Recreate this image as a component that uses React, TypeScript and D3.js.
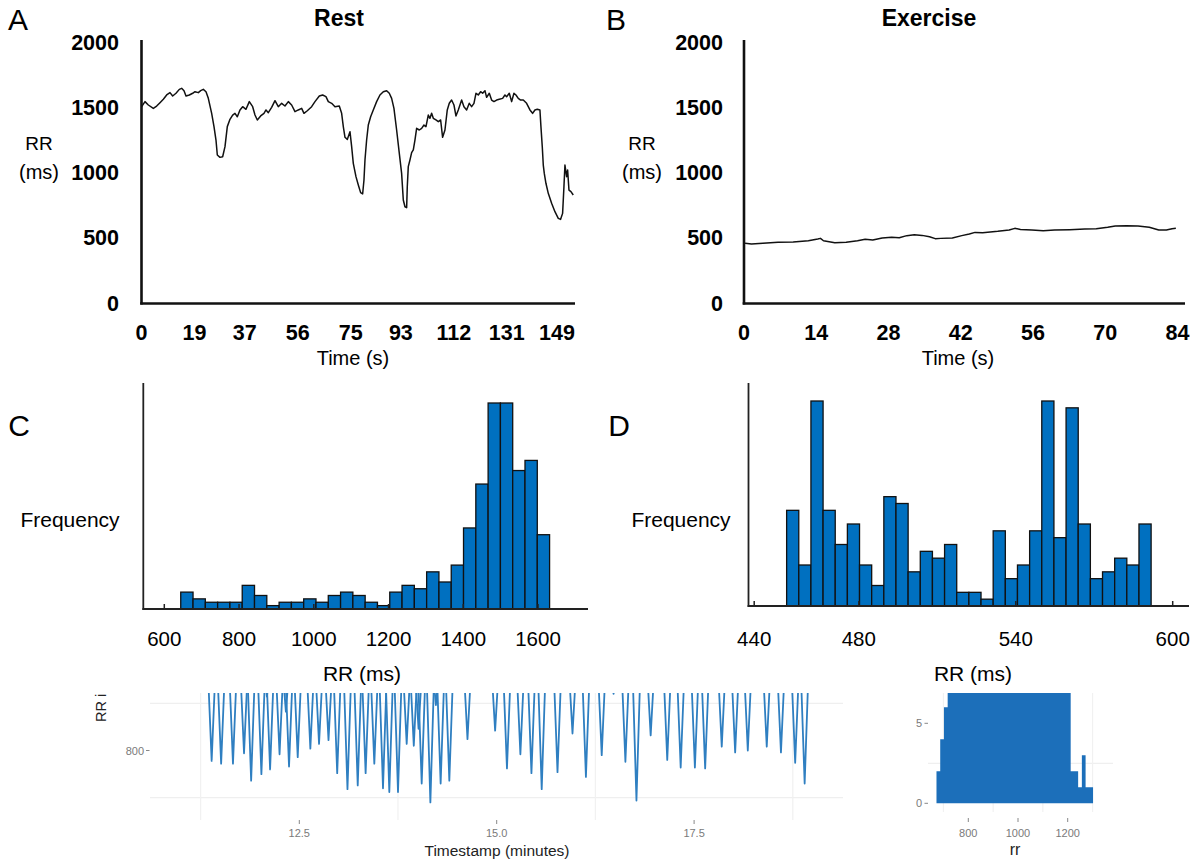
import React from "react";
import * as d3 from "d3";

// ---------- Panel A: Rest RR trace ----------
const restTime = [0.06,1.25,2.45,4.24,5.44,6.63,7.83,9.02,10.22,11.18,12.37,13.56,14.4,15.24,15.96,17.15,18.35,19.18,20.38,21.22,22.17,23.13,23.96,25.16,26.0,26.71,27.19,28.15,29.1,29.94,30.77,31.73,32.69,33.52,34.36,35.32,36.27,37.47,38.66,39.86,40.7,41.53,42.73,43.92,44.64,45.48,46.67,47.87,49.06,50.26,51.45,52.65,53.84,55.04,56.23,57.43,58.26,59.46,61.01,62.21,63.76,64.96,66.15,66.99,68.19,69.38,70.93,71.77,72.37,72.97,73.8,74.76,75.36,75.95,76.91,77.75,78.58,79.3,79.78,80.14,80.73,81.33,82.17,83.12,84.32,85.51,86.71,87.91,88.86,89.7,90.53,91.49,92.45,93.28,93.88,94.48,95.08,95.31,95.67,96.27,96.87,97.47,98.06,98.66,99.62,100.46,101.29,102.01,102.84,103.44,104.04,104.64,105.59,106.43,107.27,107.98,108.82,109.65,110.37,111.21,112.05,112.76,113.6,114.8,115.63,116.59,117.54,118.38,119.22,119.94,120.77,121.61,122.33,123.16,123.76,124.72,125.55,126.39,127.35,128.3,129.5,130.33,130.93,131.89,132.73,133.56,134.28,135.11,135.95,136.91,138.1,139.3,140.25,141.09,141.93,142.88,143.24,143.72,144.08,144.44,145.03,145.87,147.07,148.26,149.46,150.29,151.01,151.49,151.85,152.45,152.81,153.29,154.0,154.83];
const restRR = [1511,1550,1524,1498,1516,1542,1568,1601,1619,1593,1614,1644,1652,1634,1593,1601,1614,1626,1619,1634,1644,1626,1575,1460,1358,1255,1140,1122,1127,1204,1358,1414,1447,1460,1434,1486,1511,1491,1550,1511,1447,1409,1440,1460,1486,1465,1506,1557,1511,1537,1516,1550,1524,1473,1486,1498,1460,1480,1511,1550,1593,1601,1588,1550,1537,1511,1516,1460,1358,1276,1260,1319,1204,1076,974,910,851,841,948,1102,1255,1370,1434,1486,1550,1601,1626,1634,1614,1575,1498,1332,1153,999,795,743,736,897,1051,1102,1158,1179,1255,1345,1332,1345,1370,1358,1447,1422,1460,1422,1409,1396,1409,1276,1332,1486,1537,1562,1524,1440,1486,1562,1511,1486,1537,1511,1537,1614,1601,1626,1614,1634,1583,1614,1562,1550,1562,1568,1575,1601,1588,1614,1550,1614,1601,1575,1562,1562,1537,1486,1460,1486,1491,1486,1358,1204,1063,999,923,846,769,705,654,646,692,897,1063,974,1025,871,859,833];

// ---------- Panel B: Exercise RR trace ----------
const exTime = [0.21,1.45,3.66,6.59,9.53,12.47,14.3,14.82,15.4,17.6,19.8,22.0,23.48,24.95,26.78,28.6,30.08,31.55,33.0,34.5,35.95,37.05,38.16,40.37,42.2,43.66,44.77,46.24,49.17,51.38,52.48,53.58,55.78,57.98,60.17,63.12,66.05,68.26,70.47,71.94,74.13,76.34,78.53,80.37,81.84,82.95,83.68];
const exRR = [462,457,462,470,472,482,495,500,482,467,470,482,493,488,503,508,505,521,528,523,513,498,500,503,521,534,546,544,554,564,577,569,564,559,564,567,572,574,585,595,597,595,585,564,564,574,577];

const restTicks = [0, 19, 37, 56, 75, 93, 112, 131, 149];
const exTicks = [0, 14, 28, 42, 56, 70, 84];
const rrTicks = [0, 500, 1000, 1500, 2000];

// ---------- Panel C: rest histogram ----------
const histCStart = 644;
const histCWidth = 32.9;
const histCCounts = [5,3,2,2,2,7,4,1,2,2,3,2,4,5,4,2,1,5,7,6,11,8,13,24,37,61,61,41,44,22];
const histCTicks = [600, 800, 1000, 1200, 1400, 1600];

// ---------- Panel D: exercise histogram ----------
const histDStart = 452.4;
const histDWidth = 4.645;
const histDCounts = [14,6,30,14,9,12,6,3,16,15,5,8,7,9,2,2,1,11,4,6,11,30,10,29,12,4,5,7,6,12];
const histDTicks = [440, 480, 540, 600];

// ---------- Bottom left: RR series (dips) ----------
const dipTimes = [11.39,11.51,11.66,11.80,11.89,12.02,12.09,12.13,12.25,12.33,12.37,12.48,12.64,12.75,12.87,12.98,13.11,13.24,13.34,13.45,13.56,13.64,13.75,13.86,13.95,14.01,14.05,14.16,14.23,14.29,14.40,14.63,14.98,15.13,15.30,15.44,15.57,15.77,15.96,16.13,16.33,16.48,16.63,16.77,16.95,17.16,17.33,17.51,17.64,17.85,18.02,18.18,18.42,18.60,18.78,18.90];
const dipMins = [789,786,786,797,768,775,857,780,796,841,783,793,802,807,811,776,759,763,776,786,760,756,756,807,805,823,765,745,848,765,768,812,821,781,796,776,759,777,818,772,795,860,788,747,816,790,782,782,781,804,798,800,804,798,787,765];
const seriesXTicks = [12.5, 15.0, 17.5];
const seriesXMinor = [11.25, 13.75, 16.25, 18.75];
const seriesYTicks = [800];
const seriesYMinor = [750, 850];

// ---------- Bottom right: rr histogram ----------
const rrHistStart = 672;
const rrHistWidth = 15;
const rrHistCounts = [2,4,6,8,10,12,14,15,17,18,16,19,20,18,17,19,21,20,18,17,16,18,19,17,15,16,14,13,15,12,11,12,10,9,9,8,2,2,1,3,1,1];
const rrHistXTicks = [800, 1000, 1200];
const rrHistXMinor = [700, 900, 1100, 1300];
const rrHistYTicks = [0, 5];

const FONT = "'Liberation Sans', Arial, sans-serif";

export default function App() {
  const yTop = d3.scaleLinear().domain([0, 2000]).range([303.5, 43]);
  const xA = d3.scaleLinear().domain([0, 149]).range([141.5, 557]);
  const xB = d3.scaleLinear().domain([0, 84]).range([744, 1177.5]);

  const lineA = d3.line<number>().x((_, i) => xA(restTime[i])).y((d) => yTop(d));
  const lineB = d3.line<number>().x((_, i) => xB(exTime[i])).y((d) => yTop(d));

  const xC = d3.scaleLinear().domain([600, 1600]).range([164.3, 538]);
  const yC = d3.scaleLinear().domain([0, 61]).range([609, 403]);
  const xD = d3.scaleLinear().domain([440, 600]).range([754.2, 1172.7]);
  const yD = d3.scaleLinear().domain([0, 30]).range([606, 401]);

  const xE = d3.scaleLinear().domain([12.5, 15]).range([299.3, 496.7]);
  const yE = d3.scaleLinear().domain([750, 850]).range([797.7, 703.3]);
  const xF = d3.scaleLinear().domain([800, 1200]).range([968.3, 1067.7]);
  const yF = d3.scaleLinear().domain([0, 5]).range([803.3, 723.3]);

  const dipLine = d3.line<[number, number]>().x((d) => xE(d[0])).y((d) => yE(d[1]));
  const halfW = 0.055;
  const topV = 900;

  const rrHistArea = d3
    .area<number>()
    .curve(d3.curveStepAfter)
    .x((_, i) => xF(rrHistStart + i * rrHistWidth))
    .y0(yF(0))
    .y1((d) => yF(d));
  const rrHistData = [...rrHistCounts, rrHistCounts[rrHistCounts.length - 1]];

  const bold = { fontFamily: FONT, fontWeight: 700, fontSize: 21.5 } as const;

  const topPanel = (
    key: string,
    letter: string,
    title: string,
    titleX: number,
    axisX: number,
    axisEnd: number,
    labelRight: number,
    rrX: number,
    xs: d3.ScaleLinear<number, number>,
    ticks: number[],
    timeX: number,
    path: string
  ) => (
    <g key={key}>
      <text x={letter === "A" ? 8 : 606} y={30} fontFamily={FONT} fontSize={30}>{letter}</text>
      <text x={titleX} y={18} textAnchor="middle" dominantBaseline="central" style={{ ...bold, fontSize: 23 }}>{title}</text>
      <text x={rrX} y={143} textAnchor="middle" dominantBaseline="central" fontFamily={FONT} fontSize={19}>RR</text>
      <text x={rrX} y={172} textAnchor="middle" dominantBaseline="central" fontFamily={FONT} fontSize={20}>(ms)</text>
      {rrTicks.map((t) => (
        <text key={t} x={labelRight} y={yTop(t)} textAnchor="end" dominantBaseline="central" style={bold}>{t}</text>
      ))}
      {ticks.map((t) => (
        <text key={t} x={xs(t)} y={333} textAnchor="middle" dominantBaseline="central" style={bold}>{t}</text>
      ))}
      <text x={timeX} y={358} textAnchor="middle" dominantBaseline="central" fontFamily={FONT} fontSize={20}>Time (s)</text>
      <line x1={axisX} x2={axisX} y1={40} y2={304.5} stroke="#111" strokeWidth={2.6} />
      <line x1={axisX - 1.3} x2={axisEnd} y1={303.5} y2={303.5} stroke="#111" strokeWidth={2.6} />
      <path d={path} fill="none" stroke="#111" strokeWidth={1.5} strokeLinejoin="round" />
    </g>
  );

  return (
    <svg width={1191} height={862} style={{ position: "absolute", left: 0, top: 0, background: "#fff" }}>
      <rect x={0} y={0} width={1191} height={862} fill="#fff" />
      {topPanel("A", "A", "Rest", 339, 141.5, 575, 119, 39, xA, restTicks, 353, lineA(restRR) || "")}
      {topPanel("B", "B", "Exercise", 929, 744, 1185, 723, 642, xB, exTicks, 958, lineB(exRR) || "")}

      {/* Panel C */}
      <g>
        <text x={19} y={425} textAnchor="middle" dominantBaseline="central" fontFamily={FONT} fontSize={30}>C</text>
        <text x={70} y={519} textAnchor="middle" dominantBaseline="central" fontFamily={FONT} fontSize={21}>Frequency</text>
        {histCCounts.map((c, i) => {
          const x0 = xC(histCStart + i * histCWidth);
          const x1 = xC(histCStart + (i + 1) * histCWidth);
          return <rect key={i} x={x0} y={yC(c)} width={x1 - x0} height={yC(0) - yC(c)} fill="#0070C0" stroke="#111" strokeWidth={1.3} />;
        })}
        <line x1={143.3} x2={143.3} y1={383} y2={610} stroke="#222" strokeWidth={1.8} />
        <line x1={142.4} x2={588} y1={609} y2={609} stroke="#222" strokeWidth={2.2} />
        {histCTicks.map((t) => (
          <g key={t}>
            <line x1={xC(t)} x2={xC(t)} y1={609} y2={604} stroke="#222" strokeWidth={1.5} />
            <text x={xC(t)} y={638} textAnchor="middle" dominantBaseline="central" fontFamily={FONT} fontSize={20.5}>{t}</text>
          </g>
        ))}
        <text x={362} y={673} textAnchor="middle" dominantBaseline="central" fontFamily={FONT} fontSize={21}>RR (ms)</text>
      </g>

      {/* Panel D */}
      <g>
        <text x={619} y={425} textAnchor="middle" dominantBaseline="central" fontFamily={FONT} fontSize={30}>D</text>
        <text x={681} y={519} textAnchor="middle" dominantBaseline="central" fontFamily={FONT} fontSize={21}>Frequency</text>
        {histDCounts.map((c, i) => {
          const x0 = xD(histDStart + i * histDWidth);
          const x1 = xD(histDStart + (i + 1) * histDWidth);
          return <rect key={i} x={x0} y={yD(c)} width={x1 - x0} height={yD(0) - yD(c)} fill="#0070C0" stroke="#111" strokeWidth={1.3} />;
        })}
        <line x1={748.5} x2={748.5} y1={383} y2={607} stroke="#222" strokeWidth={1.8} />
        <line x1={747.6} x2={1189} y1={606} y2={606} stroke="#222" strokeWidth={2.2} />
        {histDTicks.map((t) => (
          <g key={t}>
            <line x1={xD(t)} x2={xD(t)} y1={606} y2={601} stroke="#222" strokeWidth={1.5} />
            <text x={xD(t)} y={638} textAnchor="middle" dominantBaseline="central" fontFamily={FONT} fontSize={20.5}>{t}</text>
          </g>
        ))}
        <text x={973} y={673} textAnchor="middle" dominantBaseline="central" fontFamily={FONT} fontSize={21}>RR (ms)</text>
      </g>

      {/* Bottom left: RR series */}
      <defs>
        <clipPath id="clipE"><rect x={150} y={693} width={693} height={130} /></clipPath>
        <clipPath id="clipF"><rect x={928} y={693} width={186} height={120} /></clipPath>
        <clipPath id="clipTxt"><rect x={60} y={693.5} width={100} height={60} /></clipPath>
      </defs>
      <g>
        {seriesYMinor.map((v) => (
          <line key={v} x1={150} x2={843} y1={yE(v)} y2={yE(v)} stroke="#efefef" strokeWidth={1.2} />
        ))}
        {seriesXMinor.map((t) => (
          <line key={t} x1={xE(t)} x2={xE(t)} y1={693} y2={820} stroke="#f1f1f1" strokeWidth={1.2} />
        ))}
        <g clipPath="url(#clipE)">
          {dipTimes.map((t, i) => {
            const pts: [number, number][] = [[t - halfW, topV], [t, dipMins[i]], [t + halfW, topV]];
            return <path key={i} d={dipLine(pts) || ""} fill="none" stroke="#2f7fc1" strokeWidth={1.8} strokeLinejoin="round" />;
          })}
        </g>
        {seriesYTicks.map((v) => (
          <g key={v}>
            <line x1={146} x2={149.5} y1={yE(v)} y2={yE(v)} stroke="#888" strokeWidth={1} />
            <text x={144} y={yE(v)} textAnchor="end" dominantBaseline="central" fontFamily={FONT} fontSize={11} fill="#7a7a7a">{v}</text>
          </g>
        ))}
        {seriesXTicks.map((t) => (
          <g key={t}>
            <line x1={xE(t)} x2={xE(t)} y1={820} y2={824} stroke="#888" strokeWidth={1} />
            <text x={xE(t)} y={833} textAnchor="middle" dominantBaseline="central" fontFamily={FONT} fontSize={11} fill="#7a7a7a">{t.toFixed(1)}</text>
          </g>
        ))}
        <g clipPath="url(#clipTxt)">
          <text transform="translate(106,722) rotate(-90)" fontFamily={FONT} fontSize={14.5} fill="#222">RR interval (ms)</text>
        </g>
        <text x={497} y={850} textAnchor="middle" dominantBaseline="central" fontFamily={FONT} fontSize={15.5} fill="#222">Timestamp (minutes)</text>
      </g>

      {/* Bottom right: rr histogram */}
      <g>
        <line x1={928} x2={1113} y1={yF(2.5)} y2={yF(2.5)} stroke="#efefef" strokeWidth={1.2} />
        {rrHistXMinor.map((t) => (
          <line key={t} x1={xF(t)} x2={xF(t)} y1={693} y2={812} stroke="#f1f1f1" strokeWidth={1.2} />
        ))}
        <g clipPath="url(#clipF)">
          <path d={rrHistArea(rrHistData) || ""} fill="#1c6fba" />
        </g>
        {rrHistYTicks.map((v) => (
          <g key={v}>
            <line x1={924.5} x2={928} y1={yF(v)} y2={yF(v)} stroke="#888" strokeWidth={1} />
            <text x={922} y={yF(v)} textAnchor="end" dominantBaseline="central" fontFamily={FONT} fontSize={11} fill="#7a7a7a">{v}</text>
          </g>
        ))}
        {rrHistXTicks.map((t) => (
          <g key={t}>
            <line x1={xF(t)} x2={xF(t)} y1={818} y2={822} stroke="#888" strokeWidth={1} />
            <text x={xF(t)} y={833} textAnchor="middle" dominantBaseline="central" fontFamily={FONT} fontSize={11} fill="#7a7a7a">{t}</text>
          </g>
        ))}
        <text x={1015} y={849} textAnchor="middle" dominantBaseline="central" fontFamily={FONT} fontSize={16} fill="#222">rr</text>
      </g>
    </svg>
  );
}
